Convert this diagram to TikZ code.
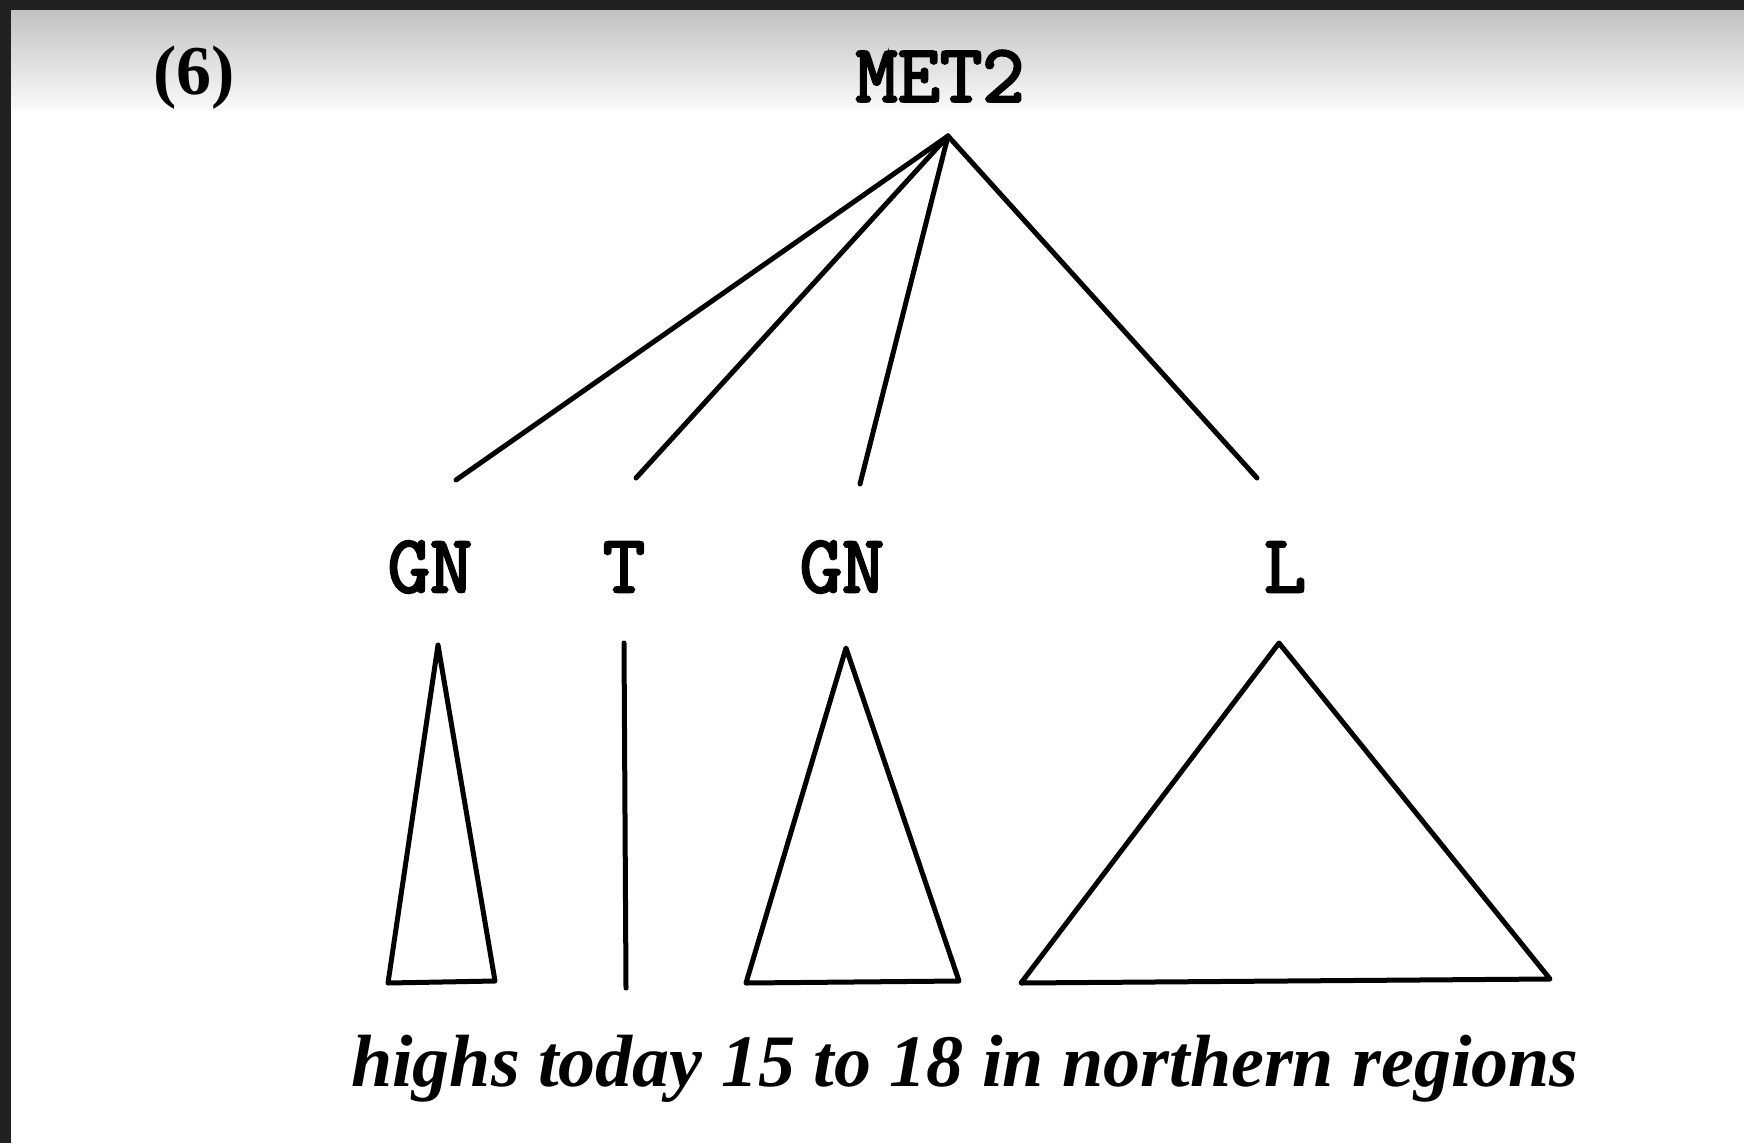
\documentclass[tikz,border=0pt]{standalone}
\usepackage{fontspec}
\setmainfont{Liberation Serif}
\newfontfamily\catfont{Latin Modern Mono}[FakeBold=3]
\usetikzlibrary{positioning}

\begin{document}
\begin{tikzpicture}[
  x=1pt, y=-1pt,
  branch/.style={line width=5pt, line cap=round, line join=round},
  cat/.style={font=\fontsize{82}{86}\selectfont\catfont, inner sep=0pt},
  words/.style={font=\fontsize{74}{78}\selectfont\itshape\bfseries, inner sep=0pt}]
\useasboundingbox (0,0) rectangle (1744,1143);
% page and the dark frame of the scan
\fill[white] (0,0) rectangle (1744,1143);
\shade[top color=black!24, bottom color=black!2] (11,10) rectangle (1744,110);
\fill[black!87] (0,0) rectangle (1744,10);
\fill[black!87] (0,0) rectangle (11,1143);

\node[font=\fontsize{70}{74}\selectfont\bfseries, inner sep=0pt] (num) at (194,78) {(6)};
\node[cat] (met) at (940,76) {MET2};
\node[cat] (gna) at (430,567) {GN};
\node[cat] (t) at (624,567) {T};
\node[cat] (gnb) at (842,567) {GN};
\node[cat] (l) at (1285,567) {L};

\coordinate (root) at (948,136);
\coordinate (gna-up) at (456,480);
\coordinate (t-up) at (636,478);
\coordinate (gnb-up) at (860,484);
\coordinate (l-up) at (1257,478);

\draw[branch] (root) -- (gna-up);
\draw[branch] (root) -- (t-up);
\draw[branch] (root) -- (gnb-up);
\draw[branch] (root) -- (l-up);

% triangles over the words
\draw[branch] (438,645) -- (495,981) -- (388,983) -- cycle;
\draw[branch] (624,643) -- (626,988);
\draw[branch] (846,648) -- (959,981) -- (746,983) -- cycle;
\draw[branch] (1279,643) -- (1550,979) -- (1021,983) -- cycle;

\node[words, anchor=base west] (sent) at (351,1086) {highs today 15 to 18 in northern regions};
\end{tikzpicture}
\end{document}
